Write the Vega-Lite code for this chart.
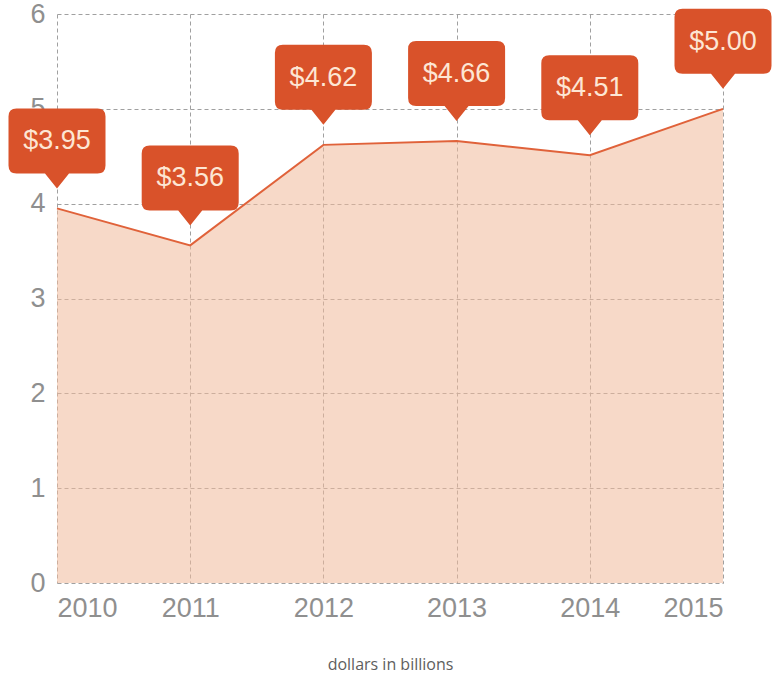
{
  "$schema": "https://vega.github.io/schema/vega-lite/v6.json",
  "width": 666,
  "height": 569,
  "autosize": {"type": "none"},
  "padding": {"left": 57, "top": 14, "right": 50, "bottom": 95},
  "background": "white",
  "data": {
    "values": [
      {"year": 2010, "value": 3.95},
      {"year": 2011, "value": 3.56},
      {"year": 2012, "value": 4.62},
      {"year": 2013, "value": 4.66},
      {"year": 2014, "value": 4.51},
      {"year": 2015, "value": 5.00}
    ]
  },
  "encoding": {
    "x": {
      "field": "year",
      "type": "quantitative",
      "scale": {"domain": [2010, 2015], "nice": false, "zero": false},
      "axis": {
        "values": [2010, 2011, 2012, 2013, 2014, 2015],
        "format": "d",
        "labelPadding": 12,
        "title": "dollars in billions",
        "titleFont": "Open Sans",
        "titleFontSize": 16,
        "titleFontWeight": "normal",
        "titleColor": "#5e5e5e",
        "titlePadding": 35
      }
    },
    "y": {
      "field": "value",
      "type": "quantitative",
      "scale": {"domain": [0, 6], "nice": false},
      "axis": {
        "values": [0, 1, 2, 3, 4, 5, 6],
        "labelPadding": 12,
        "title": null
      }
    }
  },
  "layer": [
    {
      "mark": {
        "type": "area",
        "color": "#f1ba9b",
        "opacity": 0.55
      }
    },
    {
      "mark": {
        "type": "line",
        "color": "#e0623a",
        "strokeWidth": 2,
        "opacity": 1
      }
    },
    {
      "mark": {
        "type": "point",
        "filled": true,
        "size": 4,
        "opacity": 1,
        "color": "#d9522a",
        "shape": "M0,-20 L-12,-35 L-40.5,-35 Q-48.5,-35 -48.5,-43 L-48.5,-92 Q-48.5,-100 -40.5,-100 L40.5,-100 Q48.5,-100 48.5,-92 L48.5,-43 Q48.5,-35 40.5,-35 L12,-35 Z"
      }
    },
    {
      "mark": {
        "type": "text",
        "dy": -67,
        "baseline": "middle",
        "align": "center",
        "font": "Liberation Sans",
        "fontSize": 27,
        "color": "#fde6d4"
      },
      "encoding": {
        "text": {"field": "value", "type": "quantitative", "format": "$.2f"}
      }
    }
  ],
  "config": {
    "view": {"stroke": null},
    "axis": {
      "domain": false,
      "ticks": false,
      "grid": true,
      "gridColor": "#a0a0a0",
      "gridDash": [4, 3],
      "gridOpacity": 1,
      "gridWidth": 1,
      "labelFont": "Liberation Sans",
      "labelFontSize": 27,
      "labelColor": "#8f8f8f"
    }
  }
}
